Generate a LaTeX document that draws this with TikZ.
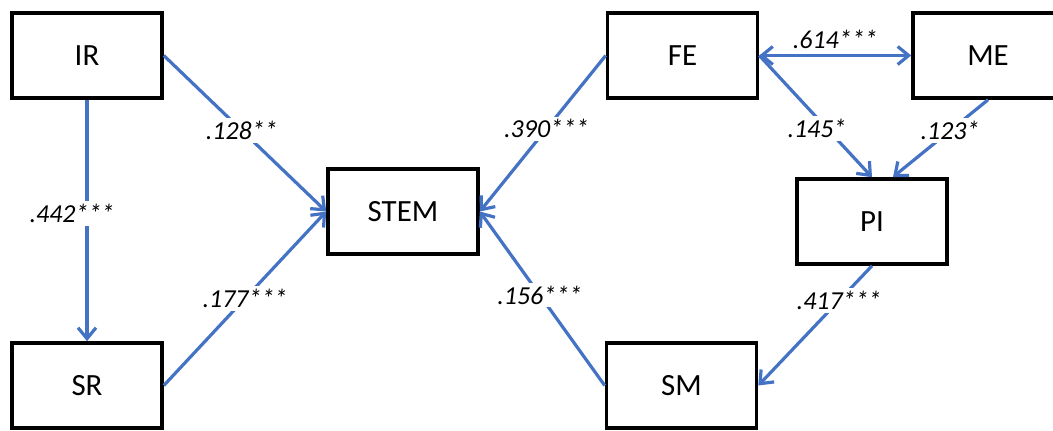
\documentclass[tikz,border=0pt]{standalone}
\usepackage{fontspec}
\setmainfont{Carlito}
\usetikzlibrary{arrows.meta}
\definecolor{pathblue}{HTML}{4472C4}
\tikzset{
  var/.style={draw=black, line width=3.6bp, fill=white, minimum width=150bp, minimum height=85bp, inner sep=0pt, font=\fontsize{31}{36}\selectfont},
  link/.style={draw=pathblue, line width=3.2bp},
  arr/.style={link, -{Straight Barb[length=11bp, width=18bp, line width=3.2bp]}},
  darr/.style={link, {Straight Barb[length=11bp, width=18bp, line width=3.2bp]}-{Straight Barb[length=11bp, width=18bp, line width=3.2bp]}},
  coef/.style={fill=white, inner sep=3bp, font=\fontsize{26}{30}\selectfont\itshape}
}
\begin{document}
\begin{tikzpicture}[x=1bp, y=-1bp]
\useasboundingbox (0,0) rectangle (1053,430);
\clip (0,0) rectangle (1053,430);
\node[var] (IR) at (87,55.5) {IR};
\node[var] (SR) at (87,385.5) {SR};
\node[var] (STEM) at (403,211.5) {STEM};
\node[var] (FE) at (682.5,55.5) {FE};
\node[var] (ME) at (988,55.5) {ME};
\node[var] (PI) at (872,221.5) {PI};
\node[var] (SM) at (681.5,385.5) {SM};
\coordinate (PIr) at (893,177);
\draw[arr] (IR.east) -- node[coef, pos=0.48] (l1) {.128**} (STEM.west);
\draw[arr] (IR.south) -- node[coef, pos=0.47, xshift=-15bp] (l2) {.442***} (SR.north);
\draw[arr] (SR.east) -- node[coef, pos=0.5] (l3) {.177***} (STEM.west);
\draw[arr] (FE.west) -- node[coef, pos=0.47] (l4) {.390***} (STEM.east);
\draw[arr] (SM.west) -- node[coef, pos=0.52] (l5) {.156***} (STEM.east);
\draw[darr] (FE.east) -- node[coef, above=2bp, fill=none] (l6) {.614***} (ME.west);
\draw[arr] (FE.east) -- node[coef, pos=0.6, xshift=-10bp] (l7) {.145*} (PI.north);
\draw[arr] (ME.south) -- node[coef, pos=0.4] (l8) {.123*} (PIr);
\draw[arr] (PI.south) -- node[coef, pos=0.29] (l9) {.417***} (SM.east);
\end{tikzpicture}
\end{document}
